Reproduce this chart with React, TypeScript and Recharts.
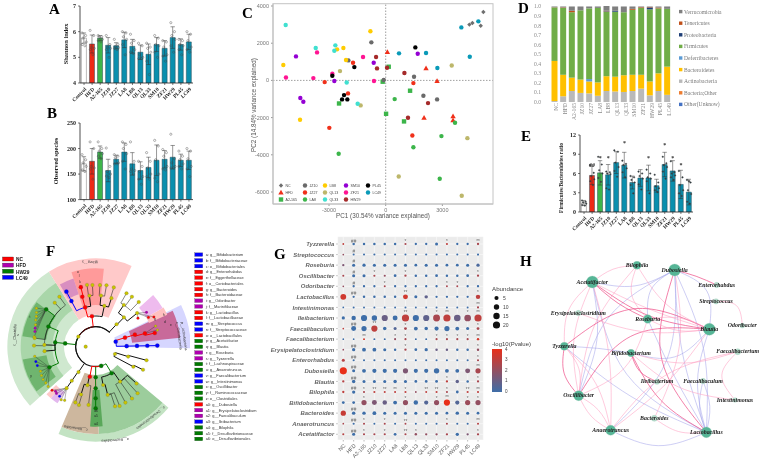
import React from 'react';
import {
  ComposedChart, BarChart, ScatterChart, PieChart, Pie, Bar, Line, Scatter, XAxis, YAxis, ErrorBar, Cell,
  ReferenceLine, CartesianGrid, LabelList,
} from 'recharts';

const groups = ['Control', 'HFD', 'A2-165', 'JZ10', 'JZ27', 'LA8', 'LB8', 'QL13', 'QL33', 'SM10', 'ZF21', 'HW29', 'PL45', 'LC49'];
const shortGroups = ['NC', 'HFD', 'A2-165', 'JZ10', 'JZ27', 'LA8', 'LB8', 'QL13', 'QL33', 'SM10', 'ZF21', 'HW29', 'PL45', 'LC49'];

const shannonMean = [5.75, 5.52, 5.75, 5.47, 5.45, 5.68, 5.43, 5.2, 5.12, 5.5, 5.35, 5.77, 5.5, 5.6];
const shannonErr = [0.2, 0.35, 0.1, 0.3, 0.12, 0.3, 0.27, 0.28, 0.4, 0.27, 0.3, 0.42, 0.22, 0.3];
const shannonPts = [
  [5.95, 5.85, 5.75, 5.6, 5.5, 5.45], [6.05, 5.85, 5.4, 5.35, 5.3, 5.1], [5.85, 5.8, 5.78, 5.7, 5.65, 5.6],
  [5.85, 5.5, 5.4, 5.35, 5.3, 5.0], [5.7, 5.5, 5.42, 5.38, 5.35, 5.3], [6.0, 5.95, 5.8, 5.7, 5.5, 5.1],
  [5.9, 5.65, 5.55, 5.3, 5.2, 5.15], [5.55, 5.45, 5.1, 5.0, 4.95, 4.95], [5.55, 5.4, 5.35, 5.2, 4.85, 4.33],
  [5.85, 5.75, 5.5, 5.45, 5.2, 5.0], [5.65, 5.6, 5.4, 5.1, 5.05, 4.85], [6.35, 6.0, 5.85, 5.7, 5.45, 5.2],
  [5.7, 5.65, 5.5, 5.45, 5.3, 5.1], [6.0, 5.9, 5.65, 5.4, 5.3, 5.2],
];
const speciesMean = [170, 175, 193, 157, 179, 193, 170, 157, 163, 177, 179, 183, 177, 177];
const speciesErr = [14, 25, 12, 22, 8, 18, 22, 17, 20, 30, 17, 23, 12, 18];
const speciesPts = [
  [188, 178, 172, 165, 158, 155], [213, 200, 165, 162, 160, 140], [213, 200, 195, 190, 185, 180],
  [201, 165, 155, 150, 146, 143], [188, 185, 182, 172, 170, 170], [213, 208, 200, 190, 175, 160],
  [213, 175, 160, 157, 155, 150], [175, 165, 155, 145, 140, 130], [192, 175, 162, 150, 145, 140],
  [216, 205, 178, 150, 142, 135], [198, 192, 185, 165, 160, 158], [228, 180, 172, 165, 162, 162],
  [195, 185, 178, 170, 165, 160], [200, 195, 180, 165, 160, 145],
];
const ratioMean = [1.4, 5.7, 6.1, 5.8, 7.7, 7.3, 4.6, 5.3, 5.3, 4.1, 7.4, 6.4, 4.3, 3.1];
const ratioErr = [0.4, 1.4, 1.9, 1.6, 1.7, 2.0, 1.0, 1.3, 2.0, 1.0, 1.9, 1.6, 2.2, 2.0];
const ratioPts = [
  [1.8, 1.6, 1.5, 1.3, 1.1, 1.0], [7.3, 6.1, 5.6, 5.1, 4.8, 4.2], [8.6, 7.4, 6.5, 6.0, 5.3, 4.7],
  [6.3, 6.2, 6.0, 5.9, 3.7, 3.5], [9.6, 9.4, 7.7, 7.0, 6.4, 5.5], [8.0, 7.5, 7.3, 6.8, 6.2, 5.4],
  [5.6, 5.4, 5.0, 4.6, 4.2, 2.9], [6.3, 6.0, 5.6, 5.2, 4.3, 3.5], [6.6, 6.0, 5.4, 5.2, 4.8, 2.9],
  [5.8, 4.6, 4.0, 3.7, 3.4, 3.1], [8.6, 7.6, 7.3, 7.0, 6.3, 5.2], [7.9, 6.2, 6.0, 5.7, 5.4, 5.0],
  [6.4, 5.4, 4.2, 3.4, 2.9, 2.5], [5.0, 4.6, 3.4, 2.8, 1.6, 1.3],
];
const ratioSig = ['', '##', '*', '*', '', '*', '', '', '*', '', '*', '*', '*', '*'];
const ratioSigAt = [0, 7.4, 8.5, 8.4, 0, 10.8, 0, 0, 8.5, 0, 10.4, 8.5, 7.3, 4.7];

// D: phyla shares, bottom to top
const phyla = ['Other(Unknow)', 'Bacteria;Other', 'Actinobacteria', 'Bacteroidetes', 'Deferribacteres', 'Firmicutes', 'Proteobacteria', 'Tenericutes', 'Verrucomicrobia'];
const actino = [0.01, 0.06, 0.115, 0.095, 0.09, 0.065, 0.115, 0.11, 0.105, 0.115, 0.14, 0.07, 0.115, 0.075];
const bacteroid = [0.42, 0.225, 0.14, 0.14, 0.125, 0.14, 0.155, 0.155, 0.175, 0.17, 0.145, 0.145, 0.185, 0.295];
const deferri = [0, 0, 0, 0, 0.025, 0, 0, 0, 0, 0, 0, 0, 0, 0];
const firmi = [0.56, 0.70, 0.685, 0.725, 0.74, 0.78, 0.675, 0.68, 0.66, 0.68, 0.70, 0.755, 0.68, 0.605];
const proteo = [0, 0, 0, 0, 0, 0, 0.005, 0.01, 0, 0, 0, 0.02, 0, 0];
const teneri = [0.002, 0.005, 0.015, 0, 0, 0, 0.005, 0, 0, 0.01, 0.007, 0.005, 0.008, 0];
const verruco = [0.008, 0.01, 0.045, 0.04, 0.02, 0.015, 0.05, 0.045, 0.06, 0.025, 0.008, 0.005, 0.012, 0.025];

// C: PCoA scores per group (PC1, PC2)
const pcaNames = ['NC', 'HFD', 'A2-165', 'JZ10', 'JZ27', 'LA8', 'LB8', 'QL13', 'QL33', 'SM10', 'ZF21', 'HW29', 'PL45', 'LC49'];
const pcaNC = [[5170, 3680], [4430, 3000], [4590, 3090], [5030, 2940]];
const pcaHFD = [[90, 1525], [2135, 645], [2720, -35], [2030, -2010], [3565, -1935], [3565, -2150]];
const pcaA2 = [[160, 735], [-160, -70], [1290, -555], [-2470, -1240], [20, -1795], [970, -2205]];
const pcaJZ10 = [[-760, 2045], [-1975, 1075], [-105, 20], [1500, 195], [1995, -825], [2720, -1020]];
const pcaJZ27 = [[-1730, 950], [-3230, -90], [1465, -145], [-1995, -700], [-2985, -2550], [1410, -2960]];
const pcaLA8 = [[475, -1005], [3670, -2280], [2950, -2995], [1465, -3590], [-2490, -3945], [2860, -5290]];
const pcaLB8 = [[-810, 2640], [-5420, 825], [-2240, 1740], [-2575, 1670], [-2100, 1095], [-4535, -2115]];
const pcaQL13 = [[-2420, 500], [3495, 805], [-1325, -1345], [4325, -3105], [690, -5165], [4025, -6205]];
const pcaQL33 = [[-5295, 2980], [-3705, 1740], [-2665, 1885], [-2720, 1595], [-2065, -110], [-1485, -1255]];
const pcaSM10 = [[-4750, 1290], [1695, 1435], [-635, 950], [-2720, -35], [-4520, -950], [-4360, -1150]];
const pcaZF21 = [[-3635, 1505], [-1200, 1255], [-2825, 360], [-5280, 160], [-3830, 125], [-620, -35]];
const pcaHW29 = [[-510, 1255], [-460, 645], [70, 680], [990, 395], [2240, -1220], [1180, -2010]];
const pcaPL45 = [[1570, 1775], [-1660, 715], [-2825, 250], [-2205, -790], [-2030, -1020], [-2310, -1020]];
const pcaLC49 = [[705, 1455], [2135, 1470], [2735, 665], [4450, 1275], [4005, 2850], [4905, 3175]];
const pcaAll = [pcaNC, pcaHFD, pcaA2, pcaJZ10, pcaJZ27, pcaLA8, pcaLB8, pcaQL13, pcaQL33, pcaSM10, pcaZF21, pcaHW29, pcaPL45, pcaLC49];
const pcaColors = ['#6f6f6f', '#f0301a', '#3cb54a', '#6a6a6a', '#f0301a', '#3cb54a', '#ffcc00', '#bdb76b', '#40e0d0', '#9400d3', '#ff1493', '#a52a2a', '#000000', '#0a9ab8'];
const pcaShapes = ['d', 't', 's', 'c', 'c', 'c', 'c', 'c', 'c', 'c', 'c', 'c', 'c', 'c'];

// G: bubble matrix
const genera = ['Tyzzerella', 'Streptococcus', 'Roseburia', 'Oscillibacter', 'Odoribacter', 'Lactobacillus', 'Intestinimonas', 'Ileibacterium', 'Faecalibaculum', 'Faecalibacterium', 'Erysipelatoclostridium', 'Enterorhabdus', 'Dubosiella', 'Blautia', 'Bilophila', 'Bifidobacterium', 'Bacteroides', 'Anaerotruncus', 'Acetatifactor'];
const abundance = [
  [0.3, 1, 1, 1, 1, 1, 0.6, 0.8, 0.8, 2, 0.6, 0.8, 0.8, 0.8],
  [0.2, 0.5, 0.5, 0.5, 0.5, 0.5, 0.5, 0.5, 0.5, 0.5, 0.5, 0.5, 0.5, 0.6],
  [0.8, 2, 2.5, 2, 2, 2, 2, 1.5, 2, 2, 1.5, 1.5, 2, 2.5],
  [0.5, 2, 2, 0.6, 0.6, 1.5, 0.8, 1, 1, 1.5, 1, 1, 1.5, 0.8],
  [0.2, 0.8, 0.8, 0.8, 0.4, 0.8, 0.8, 0.8, 0.8, 0.8, 0.4, 0.4, 0.8, 0.8],
  [12, 0.8, 1, 1, 1, 1, 8, 2, 3, 0.8, 0.8, 0.8, 0.8, 6],
  [0.2, 0.4, 0.4, 0.4, 0.4, 0.4, 0.4, 0.4, 0.4, 0.4, 0.4, 0.4, 0.4, 0.6],
  [2.5, 6, 14, 10, 14, 8, 20, 14, 14, 18, 20, 16, 17, 20],
  [0.2, 8, 9, 14, 3, 2, 1.5, 4, 3, 5, 9, 4, 2, 1.5],
  [0.2, 0.2, 0.4, 0.4, 0.4, 0.5, 0.6, 0.4, 0.4, 0.6, 0.6, 0.6, 0.6, 1],
  [0.2, 2.5, 4, 4, 2, 1, 0.8, 1.5, 2.5, 1, 1, 1, 1, 1],
  [2, 0.6, 0.5, 0.6, 0.5, 0.5, 0.5, 0.5, 0.5, 0.5, 0.5, 0.5, 0.5, 0.6],
  [20, 2, 4, 5, 5, 5, 9, 5, 5, 10, 4, 4, 8, 9],
  [0.8, 3, 2, 2, 2, 3, 2, 1.5, 1.5, 1.5, 0.8, 3, 1, 0.8],
  [0.8, 2.5, 0.6, 0.6, 0.5, 0.5, 0.6, 0.3, 0.4, 0.6, 0.6, 1.5, 0.6, 0.6],
  [1.5, 1.5, 9, 8, 6, 4, 9, 6, 5, 9, 14, 5, 9, 9],
  [9, 3, 3, 4, 2, 2, 2, 2, 2, 2, 1.5, 3, 2, 1.5],
  [0.2, 0.6, 0.5, 0.4, 0.5, 0.5, 0.4, 0.5, 0.5, 0.5, 0.5, 0.5, 0.5, 0.5],
  [0.5, 2, 0.6, 0.6, 0.6, 1.5, 0.6, 1, 0.8, 0.8, 0.8, 2.5, 0.8, 0.8],
];
const logP = [
  [3, 0, 0, 0, 0, 0, 2.5, 0, 0, 0, 3, 0, 0, 2.5],
  [2, 0, 0, 0, 0, 0, 0, 0, 0, 0, 0, 0, 0, 0],
  [1.5, 0, 0, 0, 0, 0, 0, 0, 0, 0, 0, 0, 0, 0.3],
  [2.5, 0, 0, 2.5, 2, 0, 2.5, 0, 0, 0, 0, 0, 0, 2.5],
  [2, 0, 0, 0, 2.5, 0, 0, 0, 0, 0, 2.5, 2.5, 0, 0],
  [3.4, 0, 0, 0, 0, 0, 3.4, 0, 0.8, 0, 0, 0, 0, 3],
  [0, 0, 0, 0, 0, 0, 0, 0, 0, 0, 0, 0, 0, 2.5],
  [0, 0, 0, 0, 1, 0, 3, 0, 0.8, 2.5, 3, 1, 2, 3],
  [3, 0, 0, 3, 0, 0.5, 2.5, 0, 0, 0, 0, 0, 0, 2.5],
  [0, 0, 3.5, 0, 0, 2, 2.5, 0, 0, 2.5, 2.5, 2.5, 2.5, 3.5],
  [2, 0, 0, 0, 0, 0, 2.5, 0, 0, 1, 1, 0, 0, 2],
  [2.8, 0, 0, 0, 0, 0, 0, 0, 0, 0, 0, 0, 0, 2.5],
  [4, 0, 0, 0, 0, 0, 1.5, 0, 0, 0, 0, 0, 1.5, 2.5],
  [2.8, 0, 0, 0, 0, 0, 0, 0, 0, 0, 3, 0.8, 0, 2.5],
  [3, 0, 2.5, 3, 3, 3, 3, 2, 3, 3, 2.5, 0, 3, 3],
  [0, 0, 2, 1.5, 1, 0, 2, 0, 0.5, 2, 4, 0.5, 2.2, 2],
  [3.2, 0, 0, 0, 0, 0, 0, 0, 0, 0, 0, 0, 0, 0],
  [2.5, 0, 2.5, 0, 2.5, 0, 2.5, 0, 0, 0, 2.5, 0, 0, 2.8],
  [2.8, 0, 2.5, 2.5, 2.5, 0, 2.5, 2, 2, 2, 2.5, 0, 1.5, 2.5],
];
const signif = [
  ['', '##', '', '', '', '', '*', '', '', '', '*', '', '', '**'],
  ['', '#', '', '', '', '', '', '', '', '', '', '', '', ''],
  ['', '#', '', '', '', '', '', '', '', '', '', '', '', ''],
  ['', '#', '', '*', '', '', '*', '', '', '', '', '', '', '*'],
  ['', '#', '', '', '*', '', '', '', '', '', '*', '*', '', ''],
  ['', '##', '', '', '', '', '**', '', '', '', '', '', '', '*'],
  ['', '', '', '', '', '', '', '', '', '', '', '', '', '**'],
  ['', '', '', '', '', '', '**', '', '', '*', '**', '', '*', '**'],
  ['', '##', '', '**', '', '', '*', '', '', '', '', '', '', '*'],
  ['', '', '**', '', '', '*', '*', '', '', '*', '*', '*', '*', '**'],
  ['', '##', '', '', '', '', '*', '', '', '', '', '', '', '*'],
  ['', '##', '', '', '', '', '', '', '', '', '', '', '', '*'],
  ['', '##', '', '', '', '', '', '', '', '', '', '', '', '**'],
  ['', '##', '', '', '', '', '', '', '', '', '*', '', '', '*'],
  ['', '##', '*', '**', '**', '**', '*', '', '**', '**', '*', '', '**', '**'],
  ['', '', '*', '', '', '', '*', '', '', '*', '**', '', '*', '*'],
  ['', '##', '', '', '', '', '', '', '', '', '', '', '', ''],
  ['', '##', '*', '', '*', '', '**', '', '', '', '*', '', '', '**'],
  ['', '##', '*', '', '*', '', '**', '*', '', '', '', '', '', '*'],
];

// F: legend and clade tree (angle in degrees, depth in tree units)
const lefseGroups = ['NC', 'HFD', 'HW29', 'LC49'];
const lefseColors = ['#ff0000', '#b000b0', '#007a00', '#0000ff'];
const cladeKeys = [
  ['a: g__Bifidobacterium', 3], ['b: f__Bifidobacteriaceae', 3], ['c: o__Bifidobacteriales', 3], ['d: g__Enterorhabdus', 0], ['e: f__Eggerthellaceae', 0],
  ['f: o__Coriobacteriales', 0], ['g: g__Bacteroides', 0], ['h: f__Bacteroidaceae', 0], ['i: g__Odoribacter', 1], ['j: f__Marinifilaceae', 1],
  ['k: g__Lactobacillus', 0], ['l: f__Lactobacillaceae', 0], ['m: g__Streptococcus', 3], ['n: f__Streptococcaceae', 3], ['o: o__Lactobacillales', 0],
  ['p: g__Acetatifactor', 2], ['q: g__Blautia', 2], ['r: g__Roseburia', 1], ['s: g__Tyzzerella', 1], ['t: f__Lachnospiraceae', 2],
  ['u: g__Anaerotruncus', 2], ['v: g__Faecalibacterium', 3], ['w: g__Intestinimonas', 3], ['x: g__Oscillibacter', 2], ['y: f__Ruminococcaceae', 2],
  ['z: o__Clostridiales', 2], ['a0: g__Dubosiella', 0], ['a1: g__Erysipelatoclostridium', 1], ['a2: g__Faecalibaculum', 1], ['a3: g__Ileibacterium', 3],
  ['a4: g__Bilophila', 2], ['a5: f__Desulfovibrionaceae', 2], ['a6: o__Desulfovibrionales', 2],
] as [string, number][];
// [startAngle, endAngle, innerDepth, outerDepth, colour]
const wedges: [number, number, number, number, string][] = [
  [122, 222, 95, 265, '#cfe8cf'],
  [122, 222, 130, 225, '#a9d6a9'],
  [143, 172, 150, 222, '#6fb56f'],
  [190, 217, 150, 222, '#6fb56f'],
  [66, 122, 95, 265, '#ffc9c9'],
  [84, 108, 125, 235, '#ff9a9a'],
  [108, 120, 165, 215, '#d98fc0'],
  [-1, 26, 62, 285, '#d6d6ff'],
  [6, 25, 110, 255, '#c86a9a'],
  [24, 30, 175, 235, '#ffc0c0'],
  [30, 42, 175, 232, '#eebbee'],
  [-113, -40, 262, 285, '#c3e3c3'],
  [-88, -40, 85, 262, '#9ccd9c'],
  [-113, -88, 85, 262, '#cdb79e'],
  [-94, -85, 130, 240, '#5aa85a'],
  [224, 229, 165, 205, '#ffc9c9'],
  [229, 236, 165, 205, '#e3b8ee'],
];
type Clade = [string, string, number, number, string, number?];
const clades: Clade[] = [
  ['fi', 'R', 150, 60, 'Y'], ['cl', 'fi', 174, 92, 'G'], ['ba', 'fi', 97, 92, 'R'], ['er', 'fi', 47, 92, 'Y'], ['c2', 'fi', 236, 92, 'Y'], ['px', 'R', 180, 30, 'Y'],
  ['o1', 'cl', 174, 122, 'G'], ['f1', 'o1', 157, 154, 'G'], ['f2', 'o1', 204, 152, 'G'], ['y1', 'o1', 178, 154, 'Y'], ['y2', 'o1', 185, 154, 'Y'],
  ['g1', 'f1', 126, 185, 'Y'], ['g2', 'f1', 133, 180, 'Y'], ['g3', 'f1', 143, 186, 'G'], ['g4', 'f1', 172, 185, 'Y'], ['g5', 'f1', 179, 185, 'Y'],
  ['fa1', 'g3', 147, 212, 'Y', 1], ['fa2', 'g3', 150, 205, 'Y', 1], ['fa3', 'g3', 153, 200, 'Y', 1], ['fa4', 'g3', 156, 197, 'Y', 1], ['fa5', 'g3', 160, 192, 'Y', 1],
  ['fa6', 'g3', 163, 190, 'M', 1], ['fa7', 'g3', 166, 188, 'M', 1], ['fa8', 'g3', 171, 187, 'Y', 1],
  ['fb1', 'f2', 189, 185, 'Y', 1], ['fb2', 'f2', 194, 185, 'B', 1], ['fb3', 'f2', 198, 184, 'B', 1], ['fb4', 'f2', 204, 181, 'Y', 1], ['fb5', 'f2', 208, 184, 'Y', 1],
  ['fb6', 'f2', 212, 186, 'Y', 1], ['fb7', 'f2', 216, 185, 'Y', 1], ['fb8', 'f2', 220, 186, 'Y', 1],
  ['c3', 'c2', 235, 125, 'Y'], ['c4', 'c3', 235, 152, 'Y'], ['c6', 'c4', 225, 185, 'R', 1], ['c7', 'c4', 228, 180, 'M', 1], ['c8', 'c4', 230, 183, 'M', 1],
  ['c9', 'c4', 234, 184, 'B', 1], ['c10', 'c4', 240, 186, 'Y', 1], ['c11', 'c4', 237, 190, 'Y', 1],
  ['lo', 'ba', 105, 122, 'R'], ['ly', 'ba', 78, 125, 'Y'], ['ll', 'lo', 105, 155, 'R'], ['ls', 'lo', 118, 155, 'B'], ['lk', 'll', 104, 184, 'R'], ['lm', 'ls', 118, 187, 'B'],
  ['la', 'lo', 97, 154, 'Y'], ['lb', 'la', 98, 187, 'Y'], ['lc', 'la', 93, 185, 'Y'], ['ld', 'ly', 84, 154, 'Y'], ['le', 'ld', 86, 185, 'Y'], ['lf', 'ld', 80, 187, 'Y'],
  ['lg', 'ly', 72, 153, 'Y'], ['lh', 'lg', 73, 186, 'Y'],
  ['e1', 'er', 46, 122, 'Y'], ['e2', 'e1', 56, 151, 'Y'], ['e3', 'e2', 60, 185, 'Y'], ['e4', 'e2', 54, 185, 'Y'], ['e5', 'e2', 46, 186, 'Y'], ['e6', 'e1', 39, 160, 'Y'],
  ['e7', 'e6', 34, 153, 'R', 1], ['e8', 'e6', 34, 184, 'M', 1], ['e9', 'e6', 29, 181, 'R', 1], ['e10', 'e6', 27, 196, 'R', 1],
  ['ac', 'R', 14, 62, 'B'], ['ac1', 'ac', 1, 93, 'B'], ['ac2', 'ac1', 1, 124, 'B'], ['ac3', 'ac2', 1, 155, 'B'], ['ac4', 'ac3', 1, 185, 'B'],
  ['co', 'ac', 17, 92, 'R'], ['co1', 'co', 17, 123, 'R'], ['co2', 'co1', 15, 153, 'R'], ['co3', 'co2', 13, 182, 'R'], ['co4', 'co2', 15, 192, 'Y', 1], ['co5', 'co2', 19, 190, 'Y', 1],
  ['x1', 'R', -21, 62, 'Y'], ['x2', 'x1', -17, 102, 'Y'], ['x3', 'x2', -15, 158, 'Y'], ['x4', 'x1', -28, 128, 'Y'], ['x5', 'x4', -26, 158, 'Y'],
  ['bd', 'R', -74, 60, 'G'], ['bd1', 'bd', -90, 92, 'G'], ['bd2', 'bd', -59, 93, 'G'], ['bd3', 'bd', -101, 92, 'R'],
  ['bg1', 'bd1', -90, 125, 'G'], ['bg2', 'bg1', -90, 155, 'G'], ['bg3', 'bg2', -90, 185, 'G'],
  ['bh1', 'bd3', -102, 118, 'Y'], ['bh2', 'bh1', -107, 150, 'Y'], ['bh3', 'bh2', -106, 182, 'Y'], ['bh4', 'bh2', -110, 178, 'Y'], ['bh5', 'bh1', -97, 176, 'Y'],
  ['bi1', 'bd2', -79, 117, 'Y'], ['bi2', 'bi1', -76, 149, 'Y'], ['bi3', 'bi2', -72, 188, 'Y'], ['bi4', 'bi2', -68, 192, 'Y'], ['bi5', 'bd2', -55, 128, 'Y'],
  ['bi6', 'bi5', -62, 190, 'Y'], ['bi7', 'bi5', -55, 190, 'Y'], ['bi8', 'bi5', -48, 188, 'Y'], ['bi9', 'bi5', -42, 165, 'Y'],
];
const cladeColors: Record<string, string> = { Y: '#c9c400', R: '#ff0000', M: '#b000b0', G: '#007a00', B: '#0000ff' };

// H: co-occurrence network
const netNodes: [string, number, number, number][] = [
  ['Acetatifactor', 202, 156, 18], ['Bilophila', 336, 106, 12], ['Dubosiella', 449, 120, 18], ['Enterorhabdus', 575, 165, 8], ['Streptococcus', 573, 214, 8],
  ['Odoribacter', 652, 287, 7], ['Blautia', 553, 298, 18], ['Roseburia', 368, 267, 13], ['Erysipelatoclostridium', 160, 249, 8], ['Tyzzerella', 118, 349, 12],
  ['Bifidobacterium', 318, 369, 11], ['Faecalibacterium', 638, 365, 9], ['Ileibacterium', 396, 455, 8], ['Faecalibaculum', 534, 453, 8], ['Intestinimonas', 630, 510, 7],
  ['Oscillibacter', 161, 497, 15], ['Bacteroides', 388, 565, 9], ['Anaerotruncus', 257, 601, 15], ['Lactobacillus', 544, 607, 16],
];
const netEdges: [string, string, number, number][] = [
  ['Acetatifactor', 'Dubosiella', -0.12, 1], ['Acetatifactor', 'Lactobacillus', -0.15, 1], ['Acetatifactor', 'Oscillibacter', 0.1, 1], ['Dubosiella', 'Anaerotruncus', 0.15, 1],
  ['Dubosiella', 'Lactobacillus', -0.05, 1], ['Dubosiella', 'Lactobacillus', 0.08, 1], ['Dubosiella', 'Blautia', 0.25, 1], ['Dubosiella', 'Oscillibacter', -0.15, 1],
  ['Dubosiella', 'Roseburia', -0.2, 1], ['Tyzzerella', 'Lactobacillus', -0.05, 1], ['Tyzzerella', 'Bifidobacterium', 0.02, 1], ['Roseburia', 'Lactobacillus', -0.02, 1],
  ['Bifidobacterium', 'Blautia', -0.2, 1], ['Blautia', 'Lactobacillus', -0.1, 1], ['Anaerotruncus', 'Lactobacillus', -0.15, 1], ['Faecalibaculum', 'Lactobacillus', 0.1, 1], ['Faecalibaculum', 'Lactobacillus', -0.1, 1],
  ['Acetatifactor', 'Bilophila', 0.1, 0], ['Acetatifactor', 'Blautia', -0.08, 2], ['Acetatifactor', 'Blautia', -0.03, 0], ['Acetatifactor', 'Oscillibacter', -0.1, 0], ['Acetatifactor', 'Tyzzerella', -0.15, 0],
  ['Acetatifactor', 'Anaerotruncus', 0.05, 0], ['Acetatifactor', 'Roseburia', -0.05, 2], ['Bilophila', 'Blautia', -0.1, 0], ['Bilophila', 'Roseburia', -0.2, 0], ['Bilophila', 'Oscillibacter', -0.1, 0],
  ['Dubosiella', 'Enterorhabdus', 0.03, 2], ['Dubosiella', 'Lactobacillus', -0.18, 2], ['Dubosiella', 'Bacteroides', 0.1, 0], ['Streptococcus', 'Odoribacter', 0.3, 0], ['Faecalibacterium', 'Intestinimonas', -0.3, 0],
  ['Faecalibacterium', 'Anaerotruncus', -0.12, 0], ['Faecalibacterium', 'Bifidobacterium', 0.1, 0], ['Blautia', 'Tyzzerella', -0.2, 2], ['Blautia', 'Oscillibacter', -0.2, 2], ['Blautia', 'Erysipelatoclostridium', 0.08, 0],
  ['Roseburia', 'Blautia', 0.1, 0], ['Roseburia', 'Blautia', -0.1, 0], ['Tyzzerella', 'Oscillibacter', 0.15, 0], ['Tyzzerella', 'Oscillibacter', -0.15, 2], ['Tyzzerella', 'Anaerotruncus', 0.1, 0],
  ['Oscillibacter', 'Anaerotruncus', 0.1, 0], ['Oscillibacter', 'Anaerotruncus', -0.1, 0], ['Oscillibacter', 'Roseburia', -0.15, 0], ['Bifidobacterium', 'Ileibacterium', -0.15, 2], ['Bifidobacterium', 'Lactobacillus', -0.1, 2],
  ['Bifidobacterium', 'Intestinimonas', -0.1, 0], ['Bacteroides', 'Lactobacillus', -0.12, 0], ['Anaerotruncus', 'Blautia', -0.05, 0],
];

const serif = '"Liberation Serif", serif';
const sans = '"Liberation Sans", sans-serif';
const none = () => <g />;
const jitter = [-2, 1.6, -1, 2.2, -1.8, 0.8];

function groupRows(mean: number[], err: number[], pts: number[][], extra: Record<string, any[]> = {}) {
  return groups.map((g, i) => {
    const row: any = { g, mean: mean[i], err: err[i] };
    pts[i].forEach((v, k) => { row['p' + k] = v; });
    Object.keys(extra).forEach((k) => { row[k] = extra[k][i]; });
    return row;
  });
}
const barColors = ['#ffffff', '#ee2a16', '#3eb54a', ...Array(11).fill('#0a8fae')];

function GroupBars({ left, top, w, h, xH, yW, domain, ticks, rows, filled, sig }: any) {
  return (
    <div style={{ position: 'absolute', left, top }}>
      <ComposedChart width={w} height={h} data={rows} margin={{ top: 6, right: 7, left: 0, bottom: 0 }} barCategoryGap={1.4}>
        <XAxis dataKey="g" height={xH} interval={0} tickSize={2} axisLine={{ stroke: '#222', strokeWidth: 0.8 }} tickLine={{ stroke: '#222', strokeWidth: 0.6 }}
          tick={{ fontSize: 5.3, fontFamily: serif, fontWeight: 700, fill: '#222', angle: -45, textAnchor: 'end', dy: 0 }} />
        <YAxis width={yW} domain={domain} ticks={ticks} tickSize={2} axisLine={{ stroke: '#222', strokeWidth: 0.8 }} tickLine={{ stroke: '#222', strokeWidth: 0.6 }}
          tick={{ fontSize: 6, fontFamily: serif, fontWeight: 700, fill: '#222' }} allowDataOverflow />
        <Bar dataKey="mean" isAnimationActive={false} stroke="#333" strokeWidth={0.5}>
          {rows.map((_: any, i: number) => <Cell key={i} fill={barColors[i]} stroke={i === 0 ? '#777' : '#2a4a55'} />)}
          <ErrorBar dataKey="err" width={2.2} strokeWidth={0.5} stroke="#333" />
        </Bar>
        {[0, 1, 2, 3, 4, 5].map((k) => (
          <Line key={k} dataKey={'p' + k} stroke="none" isAnimationActive={false} legendType="none"
            dot={(p: any) => <circle key={p.index} cx={p.cx + jitter[k]} cy={p.cy} r={filled ? 0.8 : 1.1} fill={filled ? '#2b3a40' : 'none'} stroke="#444" strokeWidth={0.4} />} />
        ))}
        {sig && (
          <Line dataKey="sigAt" stroke="none" dot={false} isAnimationActive={false} legendType="none">
            <LabelList dataKey="sig" position="center" style={{ fontSize: 6, fontFamily: serif, fontWeight: 700, fill: '#333' }} />
          </Line>
        )}
      </ComposedChart>
    </div>
  );
}

function PcaMark({ cx, cy, kind, fill }: any) {
  if (kind === 't') return <path d={`M${cx},${cy - 2.8}L${cx + 2.7},${cy + 1.9}L${cx - 2.7},${cy + 1.9}Z`} fill={fill} />;
  if (kind === 's') return <rect x={cx - 2.2} y={cy - 2.2} width={4.4} height={4.4} fill={fill} />;
  if (kind === 'd') return <path d={`M${cx},${cy - 2.2}L${cx + 2.2},${cy}L${cx},${cy + 2.2}L${cx - 2.2},${cy}Z`} fill={fill} />;
  return <circle cx={cx} cy={cy} r={2.2} fill={fill} />;
}

function PanelC() {
  const tick = { fontSize: 5.5, fontFamily: sans, fill: '#777' };
  return (
    <div style={{ position: 'absolute', left: 225, top: 0 }}>
      <ScatterChart width={270} height={230} margin={{ top: 3.7, right: 2, left: 0, bottom: 0 }}>
        <XAxis type="number" dataKey="x" domain={[-5966, 5680]} ticks={[-3000, 0, 3000]} height={26} tick={tick} tickSize={2}
          axisLine={{ stroke: '#bbb', strokeWidth: 1 }} tickLine={{ stroke: '#999' }} allowDataOverflow />
        <YAxis type="number" dataKey="y" domain={[-6645, 4124]} ticks={[-6000, -4000, -2000, 0, 2000, 4000]} width={48} tick={tick} tickSize={2}
          axisLine={{ stroke: '#bbb', strokeWidth: 1 }} tickLine={{ stroke: '#999' }} allowDataOverflow />
        <ReferenceLine x={0} stroke="#777" strokeDasharray="1.5 1.5" strokeWidth={0.7} />
        <ReferenceLine y={0} stroke="#777" strokeDasharray="1.5 1.5" strokeWidth={0.7} />
        {pcaAll.map((pts, i) => (
          <Scatter key={pcaNames[i]} name={pcaNames[i]} data={pts.map(([x, y]) => ({ x, y }))} isAnimationActive={false}
            shape={(p: any) => <PcaMark cx={p.cx} cy={p.cy} kind={pcaShapes[i]} fill={pcaColors[i]} />} />
        ))}
      </ScatterChart>
    </div>
  );
}

function PanelD() {
  const rows = shortGroups.map((g, i) => ({
    g, [phyla[0]]: 0, [phyla[1]]: 0, [phyla[2]]: actino[i], [phyla[3]]: bacteroid[i], [phyla[4]]: deferri[i], [phyla[5]]: firmi[i], [phyla[6]]: proteo[i], [phyla[7]]: teneri[i], [phyla[8]]: verruco[i],
  }));
  const cols = ['#4472c4', '#ed7d31', '#b9b9b9', '#ffc000', '#5b9bd5', '#70ad47', '#1f3f77', '#c0501a', '#7f7f7f'];
  const tick = { fontSize: 5.6, fontFamily: serif, fill: '#8a8a8a' };
  return (
    <div style={{ position: 'absolute', left: 525, top: 0 }}>
      <BarChart width={150} height={130} data={rows} margin={{ top: 6, right: 3.7, left: 0, bottom: 0 }} barCategoryGap={1.5}>
        <XAxis dataKey="g" height={28} interval={0} tickSize={1} axisLine={false} tickLine={false} tick={{ ...tick, angle: -90, textAnchor: 'end', dy: -2, dx: 0 }} />
        <YAxis width={25} domain={[0, 1]} ticks={[0, 0.1, 0.2, 0.3, 0.4, 0.5, 0.6, 0.7, 0.8, 0.9, 1]} interval={0} tickFormatter={(v: number) => v.toFixed(1)} axisLine={false} tickLine={false} tick={tick} tickMargin={3} />
        {phyla.map((p, i) => <Bar key={p} dataKey={p} stackId="a" fill={cols[i]} isAnimationActive={false} />)}
      </BarChart>
    </div>
  );
}

function bubbleR(a: number) { return 0.55 + Math.sqrt(a) * 0.68; }

function PanelG() {
  const points: any[] = [];
  genera.forEach((g, r) => shortGroups.forEach((c, k) => points.push({ col: k, row: r, a: abundance[r][k], p: logP[r][k], s: signif[r][k] })));
  const mix = (p: number) => {
    const t = p / 4;
    const c = [[62, 110, 168], [232, 48, 26]];
    return `rgb(${c[0].map((v, i) => Math.round(v + (c[1][i] - v) * t)).join(',')})`;
  };
  return (
    <div style={{ position: 'absolute', left: 260, top: 230 }}>
      <ScatterChart width={225} height={231} margin={{ top: 6.7, right: 1.7, left: 0, bottom: 0 }}>
        <CartesianGrid fill="#ebebeb" stroke="#ffffff" strokeWidth={0.5} />
        <XAxis type="number" dataKey="col" domain={[-0.54, 13.51]} ticks={shortGroups.map((_, i) => i)} interval={0} height={21} tickSize={1.5}
          tickFormatter={(v: number) => shortGroups[v]} axisLine={false} tickLine={{ stroke: '#555', strokeWidth: 0.4 }}
          tick={{ fontSize: 5.3, fontFamily: sans, fill: '#555', angle: -45, textAnchor: 'end' }} allowDataOverflow />
        <YAxis type="number" dataKey="row" reversed domain={[-0.69, 18.54]} ticks={genera.map((_, i) => i)} interval={0} width={77.7} tickSize={1.5}
          tickFormatter={(v: number) => genera[v]} axisLine={false} tickLine={{ stroke: '#555', strokeWidth: 0.4 }}
          tick={{ fontSize: 5.9, fontFamily: sans, fontStyle: 'italic', fontWeight: 700, fill: '#666' }} allowDataOverflow />
        <Scatter data={points} isAnimationActive={false} shape={(d: any) => (
          <g>
            <circle cx={d.cx} cy={d.cy} r={bubbleR(d.payload.a)} fill={mix(d.payload.p)} />
            {d.payload.s ? <text x={d.cx} y={d.cy - bubbleR(d.payload.a) - 0.2} textAnchor="middle" fontSize={4.6} fontFamily={sans} fill="#666">{d.payload.s}</text> : null}
          </g>
        )} />
      </ScatterChart>
    </div>
  );
}

function polar(a: number, r: number) {
  const t = (a * Math.PI) / 180;
  return { x: r * Math.cos(t), y: r * Math.sin(t) };
}
function cladePath(parent: { a: number; r: number }, c: Clade) {
  const [, , a, r, , fan] = c;
  if (fan || parent.r === 0) return [polar(parent.a, parent.r), polar(a, r)];
  const out: { x: number; y: number }[] = [];
  const steps = Math.max(1, Math.ceil(Math.abs(a - parent.a) / 6));
  for (let i = 0; i <= steps; i++) out.push(polar(parent.a + ((a - parent.a) * i) / steps, parent.r));
  out.push(polar(a, r));
  return out;
}

function PanelF() {
  const W = 190, H = 231;
  const byKey: Record<string, { a: number; r: number }> = { R: { a: 0, r: 0 } };
  clades.forEach((c) => { byKey[c[0]] = { a: c[2], r: c[3] }; });
  const ring = [45, 75, 105, 135, 165, 195, 225, 255, 285].map((a) => polar(a, 60));
  return (
    <>
      <div style={{ position: 'absolute', left: 0, top: 230 }}>
        <PieChart width={W} height={H} margin={{ top: 0, right: 0, bottom: 0, left: 0 }}>
          {wedges.map(([s, e, i, o, col], n) => (
            <Pie key={n} data={[{ v: 1 }]} dataKey="v" cx={95.67} cy={116.67} startAngle={s} endAngle={e} innerRadius={i / 3} outerRadius={o / 3}
              fill={col} stroke="none" isAnimationActive={false} label={false} labelLine={false} />
          ))}
        </PieChart>
      </div>
      <div style={{ position: 'absolute', left: 0, top: 230 }}>
        <ScatterChart width={W} height={H} margin={{ top: 0, right: 0, bottom: 0, left: 0 }}>
          <XAxis type="number" dataKey="x" domain={[-287, 283]} hide />
          <YAxis type="number" dataKey="y" domain={[-343, 350]} hide />
          <Scatter data={ring} line={{ stroke: '#111', strokeWidth: 1.1 }} lineJointType="natural" shape={none} isAnimationActive={false} />
          {clades.filter((c) => c[1] !== 'R').map((c) => {
            const col = c[4] === 'Y' ? '#111' : cladeColors[c[4]];
            const thin = c[3] > 165 && c[4] === 'Y';
            return <Scatter key={c[0] + 'e'} data={cladePath(byKey[c[1]], c)} line={{ stroke: c[5] ? '#222' : col, strokeWidth: c[5] ? 0.35 : thin ? 0.5 : 1 }} shape={none} isAnimationActive={false} />;
          })}
          <Scatter data={clades.map((c) => ({ ...polar(c[2], c[3]), c: c[4], d: c[3], f: c[5] }))} isAnimationActive={false}
            shape={(d: any) => <circle cx={d.cx} cy={d.cy} r={d.payload.f ? 1.3 : d.payload.c === 'Y' ? 1.8 : 2.1} fill={cladeColors[d.payload.c]} stroke="#555" strokeWidth={0.2} />} />
        </ScatterChart>
      </div>
    </>
  );
}

function PanelH() {
  const pos: Record<string, [number, number]> = {};
  netNodes.forEach((n) => { pos[n[0]] = [n[1], n[2]]; });
  const edgeCol = ['#ff9dc0', '#a6a6ea', '#ee4a85'];
  return (
    <div style={{ position: 'absolute', left: 525, top: 230 }}>
      <ScatterChart width={237} height={231} margin={{ top: 0, right: 0, bottom: 0, left: 0 }}>
        <XAxis type="number" dataKey="x" domain={[0, 711]} hide />
        <YAxis type="number" dataKey="y" domain={[0, 693]} reversed hide />
        {netEdges.map(([a, b, k, t], i) => {
          const [x1, y1] = pos[a];
          const [x2, y2] = pos[b];
          const mid = { x: (x1 + x2) / 2 + k * (y2 - y1), y: (y1 + y2) / 2 - k * (x2 - x1) };
          return <Scatter key={i} data={[{ x: x1, y: y1 }, mid, { x: x2, y: y2 }]} line={{ stroke: edgeCol[t], strokeWidth: t === 2 ? 0.7 : 0.55 }} lineJointType="natural" shape={none} isAnimationActive={false} />;
        })}
        <Scatter data={netNodes.map((n) => ({ x: n[1], y: n[2], s: n[3] }))} isAnimationActive={false}
          shape={(d: any) => <circle cx={d.cx} cy={d.cy} r={d.payload.s / 3} fill={d.payload.s > 10 ? '#56b596' : '#b6d9ca'} stroke="#8cc7b0" strokeWidth={0.3} />} />
        <Scatter data={netNodes.map((n) => ({ x: n[1], y: n[2], n: n[0] }))} isAnimationActive={false}
          shape={(d: any) => <text x={d.cx} y={d.cy + 1.8} textAnchor="middle" fontSize={5.9} fontFamily={serif} fontStyle="italic" fontWeight={700} fill="#222">{d.payload.n}</text>} />
      </ScatterChart>
    </div>
  );
}

const T = ({ x, y, s, f = serif, w = 400, c = '#222', rot, a = 'start', i, t }: any) => (
  <text x={x} y={y} fontSize={s} fontFamily={f} fontWeight={w} fill={c} textAnchor={a} fontStyle={i ? 'italic' : 'normal'} transform={rot !== undefined ? `rotate(${rot} ${x} ${y})` : undefined}>{t}</text>
);

function Overlay() {
  const cCols = [281, 305, 325, 346, 368];
  const cRows = [185.5, 192.5, 199.5];
  const legendC: [string, number, number, number][] = [
    ['NC', 0, 0, 0], ['HFD', 0, 1, 1], ['A2-165', 0, 2, 2], ['JZ10', 1, 0, 3], ['JZ27', 1, 1, 4], ['LA8', 1, 2, 5], ['LB8', 2, 0, 6], ['QL13', 2, 1, 7], ['QL33', 2, 2, 8],
    ['SM10', 3, 0, 9], ['ZF21', 3, 1, 10], ['HW29', 3, 2, 11], ['PL45', 4, 0, 12], ['LC49', 4, 1, 13],
  ];
  const legD = [['Verrucomicrobia', '#7f7f7f'], ['Tenericutes', '#c0501a'], ['Proteobacteria', '#1f3f77'], ['Firmicutes', '#70ad47'], ['Deferribacteres', '#5b9bd5'], ['Bacteroidetes', '#ffc000'], ['Actinobacteria', '#b9b9b9'], ['Bacteria;Other', '#ed7d31'], ['Other(Unknow)', '#4472c4']];
  const treeLetters: [string, number, number][] = [['o', 78, 273], ['l', 79, 277], ['k', 80, 283], ['t', 30, 318], ['z', 18, 336], ['y', 31, 377], ['a6', 96, 412], ['a5', 96, 417], ['a4', 96, 425], ['g', 155, 320], ['h', 164, 316], ['e', 171, 326], ['d', 165, 323]];
  return (
    <svg width={762} height={461} style={{ position: 'absolute', left: 0, top: 0, pointerEvents: 'none' }}>
      <defs>
        <linearGradient id="pgrad" x1="0" y1="0" x2="0" y2="1">
          <stop offset="0" stopColor="#e8301a" /><stop offset="1" stopColor="#3e6ea8" />
        </linearGradient>
      </defs>
      <T x={49} y={14} s={15} w={700} c="#000" t="A" />
      <T x={47} y={118} s={15} w={700} c="#000" t="B" />
      <T x={242} y={18} s={15} w={700} c="#000" t="C" />
      <T x={518} y={13} s={15} w={700} c="#000" t="D" />
      <T x={521} y={141} s={15} w={700} c="#000" t="E" />
      <T x={46} y={256} s={15} w={700} c="#000" t="F" />
      <T x={274} y={259} s={15} w={700} c="#000" t="G" />
      <T x={520} y={266} s={15} w={700} c="#000" t="H" />

      <T x={68} y={44} s={6.4} w={700} a="middle" rot={-90} t="Shannon index" />
      <T x={58} y={161} s={6.4} w={700} a="middle" rot={-90} t="Observed species" />
      <T x={563} y={178} s={5.4} w={700} a="middle" rot={-90} t="Firmicutes/Bacteroidetes ratio" />

      <rect x={273} y={3.7} width={220} height={200.3} fill="none" stroke="#c4c4c4" strokeWidth={1} />
      <T x={383} y={218} s={6.3} f={sans} c="#555" a="middle" t="PC1 (30.54% variance explained)" />
      <T x={256} y={105} s={6.3} f={sans} c="#555" a="middle" rot={-90} t="PC2 (14.84% variance explained)" />
      {legendC.map(([n, cx, ry, k]) => (
        <g key={n}>
          <PcaMark cx={cCols[cx]} cy={cRows[ry]} kind={pcaShapes[k]} fill={pcaColors[k]} />
          <T x={cCols[cx] + 4.5} y={cRows[ry] + 1.3} s={3.6} f={sans} c="#444" t={n} />
        </g>
      ))}

      {legD.map(([n, col], i) => (
        <g key={n}>
          <rect x={679} y={9.9 + i * 11.6} width={3.4} height={3.4} fill={col} />
          <T x={684} y={13.6 + i * 11.6} s={5.6} c="#7a7a7a" t={n} />
        </g>
      ))}

      {lefseGroups.map((n, i) => (
        <g key={n}>
          <rect x={2.5} y={257 + i * 6.1} width={11} height={4} fill={lefseColors[i]} stroke="#222" strokeWidth={0.3} />
          <T x={16} y={261.3 + i * 6.1} s={4.8} f={sans} w={700} c="#111" t={n} />
        </g>
      ))}
      {cladeKeys.map(([n, k], i) => (
        <g key={n}>
          <rect x={194.7} y={252.8 + i * 5.76} width={8} height={3.6} fill={lefseColors[k]} stroke="#222" strokeWidth={0.2} />
          <T x={205.7} y={256 + i * 5.76} s={3.9} f={sans} c="#333" t={n} />
        </g>
      ))}
      <T x={90} y={263} s={3.8} f={sans} c="#333" a="middle" t="c__Bacilli" rot={3} />
      <T x={16} y={335} s={3.8} f={sans} c="#333" a="middle" t="c__Clostridia" rot={-88} />
      <T x={181} y={322} s={3.6} f={sans} c="#333" t="p__Actinobacteria" rot={82} />
      <T x={176} y={322} s={3.6} f={sans} c="#333" t="c__Coriobacteriia" rot={82} />
      <T x={76} y={427} s={3.6} f={sans} c="#333" a="middle" t="c__Bacteroidia" rot={188} />
      <T x={115} y={439} s={3.6} f={sans} c="#333" a="middle" t="o__Bacteroidales" rot={176} />
      <T x={150} y={417} s={3.6} f={sans} c="#333" a="middle" t="o__Desulfovibrionales" rot={142} />
      {treeLetters.map(([l, x, y], i) => <T key={i} x={x} y={y} s={3.2} f={sans} c="#222" a="middle" t={l} />)}

      <T x={492} y={291} s={6.2} f={sans} c="#444" t="Abundance" />
      {[[5, 298], [10, 307], [15, 316], [20, 325]].map(([v, y]) => (
        <g key={v}>
          <circle cx={496.5} cy={y} r={bubbleR(v)} fill="#111" />
          <T x={503} y={y + 1.8} s={5} f={sans} c="#444" t={String(v)} />
        </g>
      ))}
      <T x={492} y={346} s={6} f={sans} c="#444" t="-log10(Pvalue)" />
      <rect x={492} y={349} width={10} height={43} fill="url(#pgrad)" />
      {[4, 3, 2, 1, 0].map((v, i) => <T key={v} x={505} y={351 + i * 10.4} s={4.6} f={sans} c="#444" t={String(v)} />)}
    </svg>
  );
}

export default function App() {
  const shannonRows = groupRows(shannonMean, shannonErr, shannonPts);
  const speciesRows = groupRows(speciesMean, speciesErr, speciesPts);
  const ratioRows = groupRows(ratioMean, ratioErr, ratioPts, { sig: ratioSig, sigAt: ratioSigAt.map((v) => (v === 0 ? null : v)) });
  return (
    <div style={{ position: 'absolute', left: 0, top: 0, width: 762, height: 461, background: '#fff', overflow: 'hidden', filter: 'blur(0.3px)' }}>
      <GroupBars left={50.3} top={-0.3} w={150} h={115} xH={32} yW={30} domain={[4, 7]} ticks={[4, 5, 6, 7]} rows={shannonRows} />
      <GroupBars left={50.3} top={116.7} w={150} h={115} xH={32.4} yW={30} domain={[100, 250]} ticks={[100, 150, 200, 250]} rows={speciesRows} />
      <GroupBars left={550.3} top={128.7} w={150} h={115} xH={32} yW={30} domain={[0, 12]} ticks={[0, 3, 6, 9, 12]} rows={ratioRows} filled sig />
      <PanelC />
      <PanelD />
      <PanelF />
      <PanelG />
      <PanelH />
      <Overlay />
    </div>
  );
}
